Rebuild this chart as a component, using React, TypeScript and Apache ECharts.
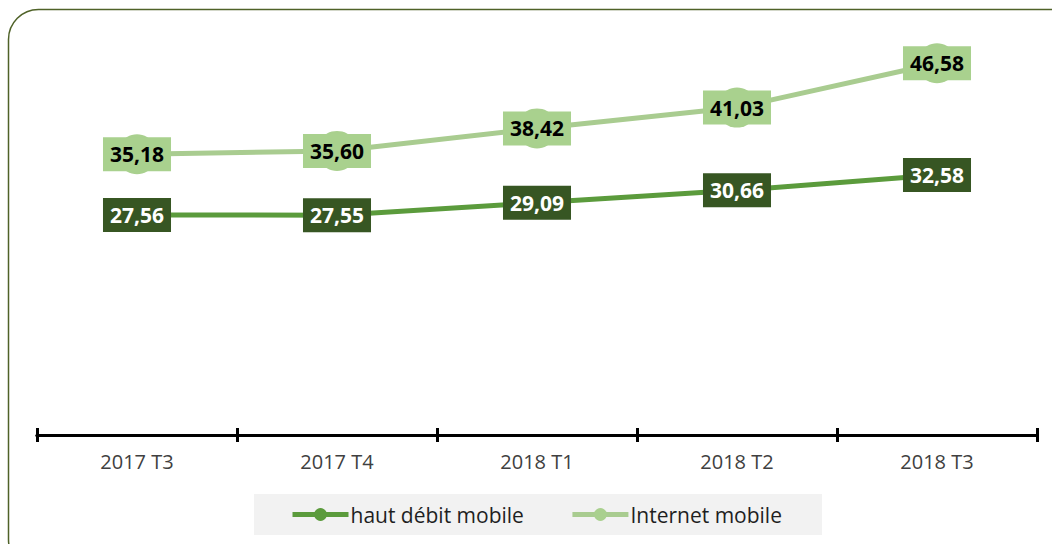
import React, { useEffect, useRef } from "react";
import * as echarts from "echarts";

const categories = ["2017 T3", "2017 T4", "2018 T1", "2018 T2", "2018 T3"];
const hautDebit = [27.56, 27.55, 29.09, 30.66, 32.58];
const internetMobile = [35.18, 35.6, 38.42, 41.03, 46.58];
const seriesNames = ["haut débit mobile", "Internet mobile"];

const fmt = (v: number) => v.toFixed(2).replace(".", ",");

export default function App() {
  const ref = useRef<HTMLDivElement>(null);
  useEffect(() => {
    if (!ref.current) return;
    const chart = echarts.init(ref.current, null, { renderer: "svg" });
    const font = "'Open Sans', 'Noto Sans', sans-serif";
    const axisCommon = {
      type: "category" as const,
      data: categories,
      boundaryGap: true,
      position: "bottom" as const,
      axisLine: { show: true, lineStyle: { color: "#000", width: 3 } },
      axisTick: { show: true, alignWithLabel: false, length: 7, lineStyle: { color: "#000", width: 3 } },
    };
    chart.setOption({
      animation: false,
      backgroundColor: "#fff",
      graphic: [
        {
          type: "rect",
          shape: { x: 8.5, y: 9.5, width: 1080, height: 560, r: 30 },
          style: { fill: "none", stroke: "#4f6228", lineWidth: 1.5 },
          z: 0,
        },
      ],
      grid: { left: 37, right: 15, top: 36, bottom: 109 },
      xAxis: [
        {
          ...axisCommon,
          axisTick: { ...axisCommon.axisTick, inside: false },
          axisLabel: { show: true, color: "#404040", fontSize: 20, fontFamily: font, margin: 16 },
        },
        {
          ...axisCommon,
          axisTick: { ...axisCommon.axisTick, inside: true },
          axisLabel: { show: false },
        },
      ],
      yAxis: { type: "value", min: 0, max: 50, show: false, splitLine: { show: false } },
      legend: {
        data: seriesNames,
        left: 254,
        top: 494,
        backgroundColor: "#f2f2f2",
        padding: [10, 40, 10, 36],
        itemWidth: 56,
        itemHeight: 16,
        itemGap: 46,
        lineStyle: { width: 5 },
        textStyle: { color: "#1f1f1f", fontSize: 21, fontFamily: font, padding: [0, 0, 0, -3] },
      },
      series: [
        {
          name: seriesNames[0],
          type: "line",
          data: hautDebit,
          symbol: "circle",
          symbolSize: 12,
          itemStyle: { color: "#5b9b3c" },
          lineStyle: { color: "#5b9b3c", width: 5 },
          z: 3,
          label: {
            show: true,
            position: "inside",
            formatter: (p: any) => fmt(p.value),
            backgroundColor: "#375623",
            color: "#fff",
            fontWeight: "bold",
            fontSize: 21,
            fontFamily: font,
            lineHeight: 26,
            padding: [4, 7],
          },
        },
        {
          name: seriesNames[1],
          type: "line",
          data: internetMobile,
          symbol: "circle",
          symbolSize: 40,
          itemStyle: { color: "#a9d08e" },
          lineStyle: { color: "#a9cc90", width: 5 },
          z: 2,
          label: {
            show: true,
            position: "inside",
            formatter: (p: any) => fmt(p.value),
            backgroundColor: "#a9d18e",
            color: "#000",
            fontWeight: "bold",
            fontSize: 21,
            fontFamily: font,
            lineHeight: 26,
            padding: [4, 7],
          },
        },
      ],
    });
    return () => chart.dispose();
  }, []);
  return (
    <div
      ref={ref}
      style={{ position: "fixed", left: 0, top: 0, width: 1052, height: 544 }}
    />
  );
}
